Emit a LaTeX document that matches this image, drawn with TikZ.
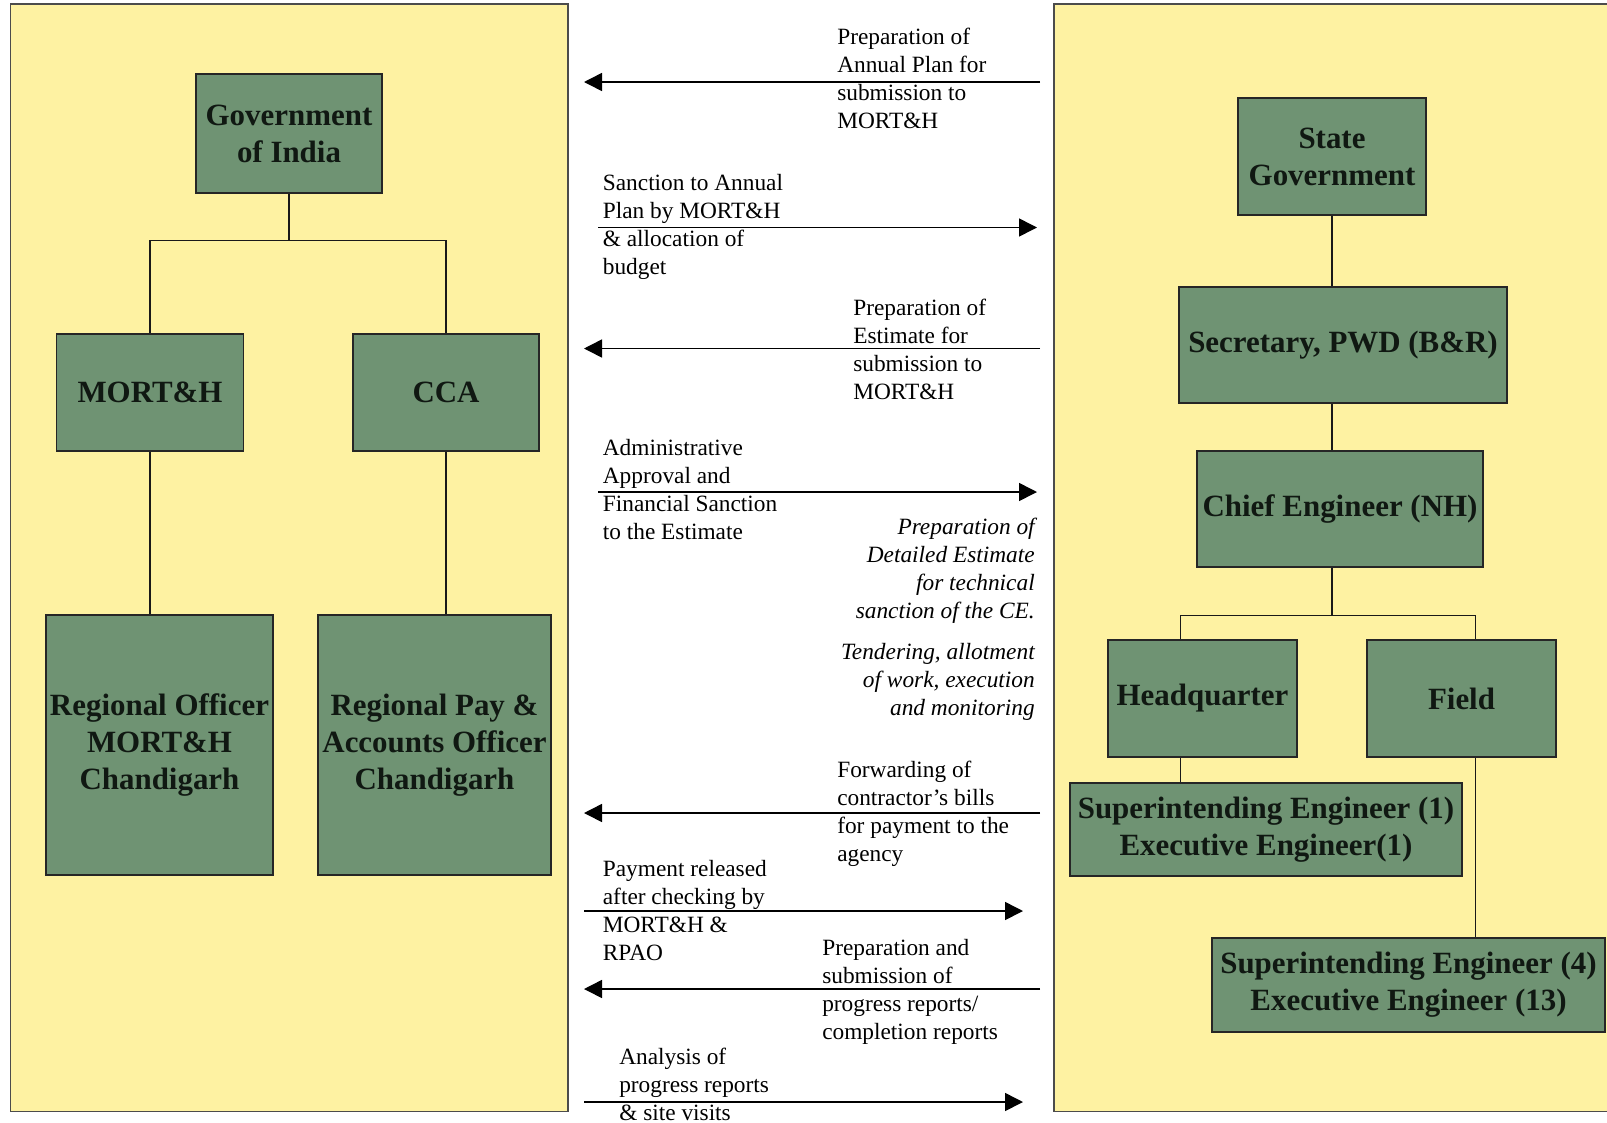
\documentclass[tikz,border=0pt]{standalone}
\usepackage{fontspec}
\setmainfont{Liberation Serif}
\usetikzlibrary{arrows.meta}
\definecolor{paneyellow}{RGB}{254,242,162}
\definecolor{boxgreen}{RGB}{111,147,115}
\definecolor{inkdark}{RGB}{16,24,18}
\tikzset{
panel/.style={draw=black!70, fill=paneyellow, line width=0.9pt},
orgbox/.style 2 args={draw=black!85, fill=boxgreen, line width=1pt, text=inkdark,
	minimum width=#1cm, minimum height=#2cm, inner sep=0pt, align=center,
	font=\bfseries\fontsize{22}{26.3}\selectfont},
link/.style={draw=black!90, line width=0.9pt},
flow/.style={-{Triangle[length=0.45cm,width=0.45cm]}, line width=1.1pt},
note/.style={inner sep=0pt, align=left, anchor=north west, font=\fontsize{16.6}{19.9}\selectfont},
inote/.style={inner sep=0pt, align=right, anchor=north east, font=\itshape\fontsize{16.6}{19.9}\selectfont},
}

\begin{document}
\begin{tikzpicture}
%Canvas and the two panels
\fill[white] (0,0) rectangle (40.175,-28.05);
\useasboundingbox (0,0) rectangle (40.175,-28.05);
\draw[panel] (0.26,-0.1) rectangle (14.2,-27.78);
\draw[panel] (26.35,-0.1) rectangle (40.6,-27.78);

%Centre side
\node[orgbox={4.65}{2.975}] (goi) at (7.225,-3.3375) {Government\\of India};
\node[orgbox={4.675}{2.925}] (mort) at (3.75,-9.8125) {MORT\&H};
\node[orgbox={4.65}{2.925}] (cca) at (11.15,-9.8125) {CCA};
\node[orgbox={5.675}{6.5}] (ro) at (3.9875,-18.625) {Regional Officer\\MORT\&H\\Chandigarh};
\node[orgbox={5.825}{6.5}] (rpao) at (10.8625,-18.625) {Regional Pay \&\\Accounts Officer\\Chandigarh};

\draw[link] (goi.south) -- ++(0,-1.175) coordinate (g1);
\draw[link] (mort.north) |- (g1) -| (cca.north);
\draw[link] (mort.south) -- (mort.south |- ro.north);
\draw[link] (cca.south) -- (cca.south |- rpao.north);

%State side
\node[orgbox={4.7}{2.925}] (state) at (33.3,-3.9125) {State\\Government};
\node[orgbox={8.2}{2.9}] (sec) at (33.575,-8.625) {Secretary, PWD (B\&R)};
\node[orgbox={7.15}{2.9}] (ce) at (33.5,-12.725) {Chief Engineer (NH)};
\node[orgbox={4.725}{2.925}] (hq) at (30.0625,-17.4625) {Headquarter};
\node[orgbox={4.725}{2.925}] (fld) at (36.5375,-17.4625) {Field};
\node[orgbox={9.8}{2.325}] (se1) at (31.65,-20.7375) {Superintending Engineer (1)\\Executive Engineer(1)};
\node[orgbox={9.825}{2.35}] (se4) at (35.2125,-24.625) {Superintending Engineer (4)\\Executive Engineer (13)};

\draw[link] (state.south) -- (state.south |- sec.north);
\draw[link] (state.south |- sec.south) -- (state.south |- ce.north);
\draw[link] (state.south |- ce.south) -- ++(0,-1.2) coordinate (c1);
\draw[link] ([xshift=-0.55cm]hq.north) |- (c1) -| ([xshift=0.35cm]fld.north);
\draw[link] ([xshift=-0.55cm]hq.south) -- ([xshift=-0.55cm]hq.south |- se1.north);
\draw[link] ([xshift=0.35cm]fld.south) -- ([xshift=0.35cm]fld.south |- se4.north);

%Flows to the centre
\foreach \y/\n in {2.05/1, 8.7125/3, 20.325/7, 24.725/9} {
	\coordinate (r\n) at (26,-\y);
	\coordinate (l\n) at (14.6,-\y);
	\draw[flow] (r\n) -- (l\n);
}
%Flows to the state
\foreach \y/\n/\a/\b in {5.6875/2/14.96/25.925, 12.3/4/14.96/25.925, 22.775/8/14.6/25.575, 27.55/10/14.6/25.575} {
	\coordinate (l\n) at (\a,-\y);
	\coordinate (r\n) at (\b,-\y);
	\draw[flow] (l\n) -- (r\n);
}

%Texts on the flows
\node[note] (t1) at (20.925,-0.7) {Preparation of\\Annual Plan for\\submission to\\MORT\&H};
\node[note] (t2) at (15.065,-4.3625) {Sanction to Annual\\Plan by MORT\&H\\\& allocation of\\budget};
\node[note] (t3) at (21.325,-7.4625) {Preparation of\\Estimate for\\submission to\\MORT\&H};
\node[note] (t4) at (15.065,-10.975) {Administrative\\Approval and\\Financial Sanction\\to the Estimate};
\node[inote] (t5) at (25.875,-12.95) {Preparation of\\Detailed Estimate\\for technical\\sanction of the CE.};
\node[inote] (t6) at (25.875,-16.075) {Tendering, allotment\\of work, execution\\and monitoring};
\node[note] (t7) at (20.925,-19.025) {Forwarding of\\contractor's bills\\for payment to the\\agency};
\node[note] (t8) at (15.065,-21.5) {Payment released\\after checking by\\MORT\&H \&\\RPAO};
\node[note] (t9) at (20.55,-23.475) {Preparation and\\submission of\\progress reports/\\completion reports};
\node[note] (t10) at (15.475,-26.2) {Analysis of\\progress reports\\\& site visits};

\end{tikzpicture}
\end{document}
